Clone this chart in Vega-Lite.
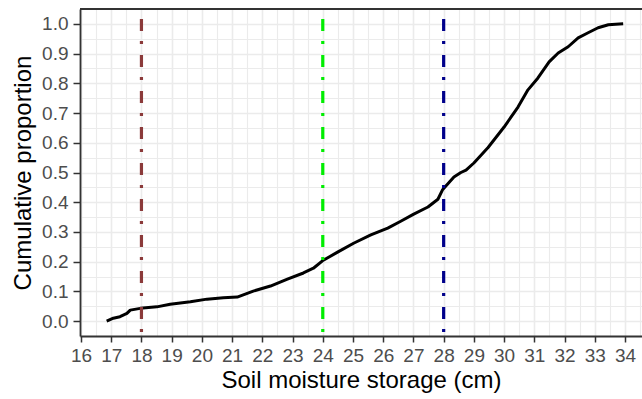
{
  "$schema": "https://vega.github.io/schema/vega-lite/v6.json",
  "width": 562,
  "height": 327,
  "autosize": {"type": "none"},
  "padding": {"left": 80, "top": 9, "right": 0, "bottom": 63},
  "background": "white",
  "config": {
    "view": {"stroke": null},
    "font": "Liberation Sans"
  },
  "datasets": {
    "ecdf": [
      {"storage": 16.85, "prop": 0.0},
      {"storage": 17.07, "prop": 0.01},
      {"storage": 17.29, "prop": 0.015},
      {"storage": 17.52, "prop": 0.026},
      {"storage": 17.63, "prop": 0.037},
      {"storage": 17.96, "prop": 0.043},
      {"storage": 18.51, "prop": 0.048},
      {"storage": 18.95, "prop": 0.057},
      {"storage": 19.62, "prop": 0.065},
      {"storage": 20.17, "prop": 0.074},
      {"storage": 20.71, "prop": 0.079},
      {"storage": 21.17, "prop": 0.081},
      {"storage": 21.7, "prop": 0.101},
      {"storage": 22.27, "prop": 0.118},
      {"storage": 22.83, "prop": 0.141},
      {"storage": 23.36, "prop": 0.162},
      {"storage": 23.69, "prop": 0.178},
      {"storage": 23.99, "prop": 0.203},
      {"storage": 24.49, "prop": 0.232},
      {"storage": 25.02, "prop": 0.262},
      {"storage": 25.59, "prop": 0.29},
      {"storage": 26.15, "prop": 0.313},
      {"storage": 26.58, "prop": 0.336},
      {"storage": 27.01, "prop": 0.36},
      {"storage": 27.48, "prop": 0.384},
      {"storage": 27.81, "prop": 0.41},
      {"storage": 27.97, "prop": 0.443},
      {"storage": 28.34, "prop": 0.485},
      {"storage": 28.57, "prop": 0.5},
      {"storage": 28.74, "prop": 0.508},
      {"storage": 29.0, "prop": 0.532},
      {"storage": 29.47, "prop": 0.584},
      {"storage": 30.0, "prop": 0.653},
      {"storage": 30.46, "prop": 0.72},
      {"storage": 30.79, "prop": 0.778},
      {"storage": 31.12, "prop": 0.818},
      {"storage": 31.49, "prop": 0.872},
      {"storage": 31.79, "prop": 0.902},
      {"storage": 32.12, "prop": 0.923},
      {"storage": 32.45, "prop": 0.953},
      {"storage": 32.78, "prop": 0.97},
      {"storage": 33.11, "prop": 0.987},
      {"storage": 33.45, "prop": 0.997},
      {"storage": 33.94, "prop": 1.0}
    ],
    "thresholds": [
      {"storage": 18},
      {"storage": 24},
      {"storage": 28}
    ],
    "border": [{"prop": 1.05}]
  },
  "encoding": {
    "x": {
      "field": "storage",
      "type": "quantitative",
      "scale": {"domain": [15.967, 34.563], "nice": false, "zero": false},
      "axis": {
        "title": "Soil moisture storage (cm)",
        "values": [16, 16.5, 17, 17.5, 18, 18.5, 19, 19.5, 20, 20.5, 21, 21.5, 22, 22.5, 23, 23.5, 24, 24.5, 25, 25.5, 26, 26.5, 27, 27.5, 28, 28.5, 29, 29.5, 30, 30.5, 31, 31.5, 32, 32.5, 33, 33.5, 34, 34.5],
        "labelExpr": "datum.value % 1 === 0 ? format(datum.value, 'd') : ''",
        "labelOverlap": false,
        "labelFlush": false,
        "labelFont": "Liberation Sans",
        "labelFontSize": 19,
        "labelColor": "#4D4D4D",
        "labelPadding": 4,
        "tickColor": "#333333",
        "tickWidth": 1.5,
        "tickSize": 6,
        "tickOpacity": {"condition": {"test": "datum.value % 1 !== 0", "value": 0}, "value": 1},
        "domainColor": "#333333",
        "domainWidth": 1.8,
        "grid": true,
        "gridColor": "#EBEBEB",
        "gridWidth": {"condition": {"test": "datum.value % 1 !== 0", "value": 1.1}, "value": 1.6},
        "titleFont": "Liberation Sans",
        "titleFontSize": 24,
        "titleFontWeight": "normal",
        "titleColor": "#000000",
        "titlePadding": 3
      }
    },
    "y": {
      "field": "prop",
      "type": "quantitative",
      "scale": {"domain": [-0.05, 1.05], "nice": false, "zero": false},
      "axis": {
        "title": "Cumulative proportion",
        "values": [0, 0.05, 0.1, 0.15, 0.2, 0.25, 0.3, 0.35, 0.4, 0.45, 0.5, 0.55, 0.6, 0.65, 0.7, 0.75, 0.8, 0.85, 0.9, 0.95, 1.0],
        "labelExpr": "round(datum.value * 100) % 10 === 0 ? format(datum.value, '.1f') : ''",
        "labelOverlap": false,
        "labelFlush": false,
        "labelFont": "Liberation Sans",
        "labelFontSize": 19,
        "labelColor": "#4D4D4D",
        "labelPadding": 5,
        "tickColor": "#333333",
        "tickWidth": 1.5,
        "tickSize": 7,
        "tickOpacity": {"condition": {"test": "round(datum.value * 100) % 10 !== 0", "value": 0}, "value": 1},
        "domainColor": "#333333",
        "domainWidth": 1.8,
        "grid": true,
        "gridColor": "#EBEBEB",
        "gridWidth": {"condition": {"test": "round(datum.value * 100) % 10 !== 0", "value": 1.1}, "value": 1.6},
        "titleFont": "Liberation Sans",
        "titleFontSize": 24,
        "titleFontWeight": "normal",
        "titleColor": "#000000",
        "titlePadding": 6
      }
    }
  },
  "layer": [
    {
      "data": {"name": "ecdf"},
      "mark": {"type": "line", "color": "#000000", "strokeWidth": 3, "strokeJoin": "round"}
    },
    {
      "data": {"name": "thresholds"},
      "mark": {"type": "rule", "strokeWidth": 3.2, "strokeDash": [12, 10, 3, 11], "strokeDashOffset": 26},
      "encoding": {
        "y": null,
        "color": {
          "field": "storage",
          "type": "nominal",
          "scale": {"domain": [18, 24, 28], "range": ["#8B3A3A", "#00EE00", "#00008B"]},
          "legend": null
        }
      }
    },
    {
      "data": {"name": "border"},
      "mark": {"type": "rule", "color": "#333333", "strokeWidth": 1.8},
      "encoding": {
        "x": null
      }
    }
  ]
}
